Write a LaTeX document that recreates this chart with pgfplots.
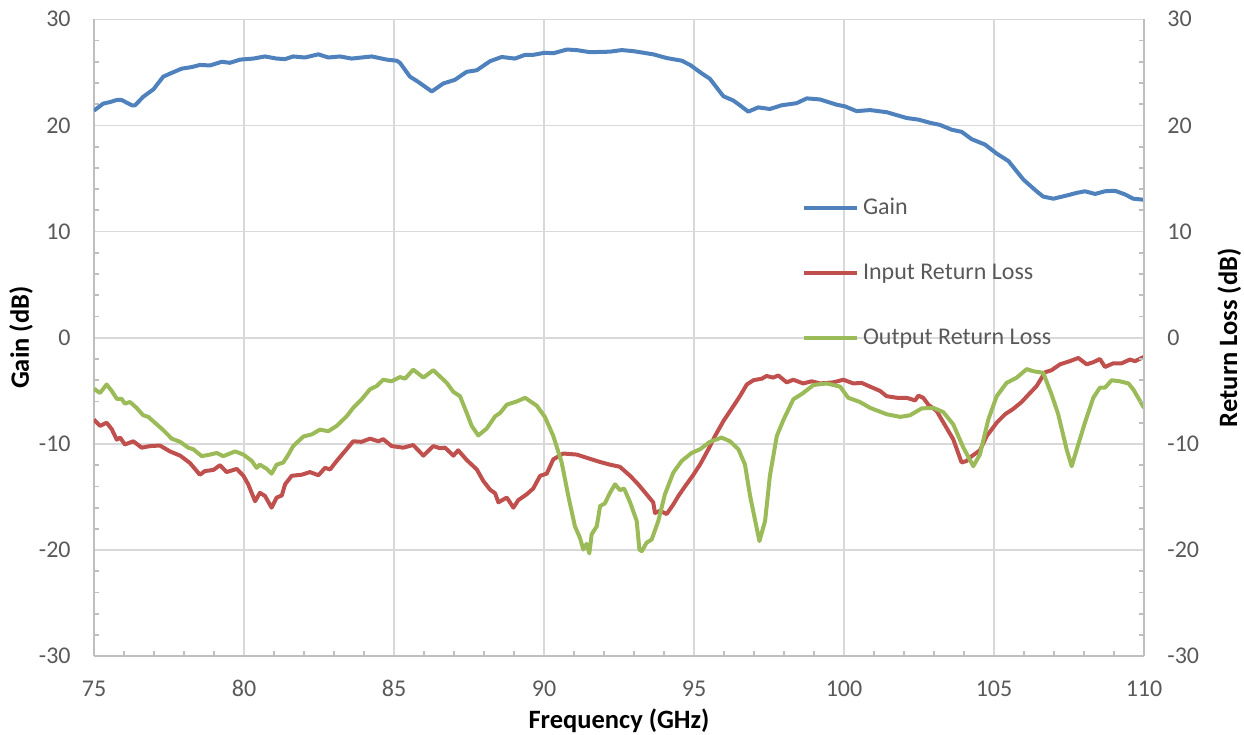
\documentclass[border=0pt]{standalone}
\usepackage{pgfplots}
\pgfplotsset{compat=1.18}
\usepackage{fontspec}
\setmainfont{Carlito}
\definecolor{gainc}{HTML}{4F81BD}
\definecolor{inc}{HTML}{C0504D}
\definecolor{outc}{HTML}{9BBB59}
\definecolor{gridc}{HTML}{D9D9D9}
\definecolor{axc}{HTML}{BFBFBF}
\definecolor{tickc}{HTML}{595959}
\begin{document}
\begin{tikzpicture}
\pgfplotsset{
  common/.style={
    scale only axis, width=525pt, height=318.5pt,
    xmin=75, xmax=110, ymin=-30, ymax=30,
    /pgf/number format/assume math mode=true,
    ticklabel style={font=\fontsize{12}{14}\selectfont, text=tickc, inner sep=0pt},
    label style={font=\bfseries\fontsize{13.25}{15}\selectfont, text=black, inner sep=0pt},
    axis line style={axc, line width=0.9pt},
    tick style={axc, line width=0.9pt},
    tick align=inside,
    major tick length=0pt, minor tick length=2.5pt,
    ytick={-30,-20,...,30}, minor y tick num=4,
  }
}
\begin{axis}[common,
  axis x line*=bottom, axis y line*=left,
  xtick={75,80,...,110}, minor x tick num=4,
  xmajorgrids, ymajorgrids,
  grid style={gridc, line width=0.75pt},
  xticklabel style={anchor=base, yshift=-20pt},
  yticklabel style={anchor=east, xshift=-11.5pt},
  xlabel={Frequency (GHz)},
  ylabel={Gain (dB)},
  xlabel style={at={(axis description cs:0.5,0)}, anchor=base, yshift=-36pt},
  ylabel style={at={(axis description cs:0,0.5)}, anchor=base, yshift=32.5pt},
  legend cell align=left,
  legend style={draw=none, fill=none, at={(rel axis cs:0.6743,0.7206)}, anchor=north west,
    inner sep=0pt, outer sep=0pt, row sep=21.5pt,
    nodes={inner sep=0pt, text=tickc, font=\fontsize{12}{14}\selectfont, text height=8.5pt, text depth=2.5pt},
    /tikz/every odd column/.append style={column sep=2pt}},
  legend image code/.code={\draw[#1, line width=2pt] (0pt,0pt) -- (26.5pt,0pt);},
  line join=round,
]
\addplot[gainc, line width=2pt] coordinates {
(75,21.4) (75.31,22.06) (75.53,22.2) (75.76,22.4) (75.92,22.4) (76.26,21.9) (76.37,21.9) (76.64,22.7) (76.98,23.4) (77.31,24.6) (77.59,24.95) (77.92,25.35) (78.26,25.5) (78.53,25.7) (78.87,25.65) (79.26,26.0) (79.53,25.9) (79.87,26.2) (80.31,26.3) (80.7,26.5) (81.09,26.3) (81.37,26.25) (81.64,26.5) (82.03,26.4) (82.48,26.7) (82.81,26.4) (83.2,26.5) (83.59,26.3) (83.92,26.4) (84.26,26.5) (84.76,26.2) (85.09,26.1) (85.2,25.9) (85.53,24.6) (85.81,24.1) (86.26,23.2) (86.64,23.95) (87.03,24.3) (87.42,25.05) (87.76,25.2) (88.2,26.05) (88.59,26.45) (89.03,26.3) (89.37,26.65) (89.64,26.65) (90.03,26.85) (90.31,26.8) (90.76,27.15) (91.09,27.1) (91.53,26.9) (92.2,26.95) (92.59,27.1) (92.98,27.0) (93.64,26.7) (94.09,26.35) (94.59,26.1) (94.87,25.7) (95.26,24.9) (95.53,24.4) (95.76,23.55) (95.98,22.75) (96.31,22.35) (96.53,21.9) (96.81,21.3) (97.14,21.7) (97.53,21.55) (97.92,21.9) (98.42,22.1) (98.76,22.55) (99.2,22.45) (99.76,21.95) (100.03,21.8) (100.42,21.35) (100.87,21.45) (101.42,21.25) (102.09,20.7) (102.48,20.55) (102.87,20.25) (103.2,20.05) (103.59,19.6) (103.92,19.4) (104.26,18.7) (104.7,18.2) (105.09,17.35) (105.48,16.65) (105.98,14.9) (106.42,13.8) (106.64,13.3) (106.98,13.1) (107.42,13.4) (107.76,13.65) (108.03,13.8) (108.37,13.55) (108.7,13.8) (109.03,13.85) (109.37,13.5) (109.64,13.1) (110,13.0)
};
\addlegendentry{Gain}
\addplot[inc, line width=2pt] coordinates {
(75,-7.7) (75.2,-8.3) (75.42,-8.0) (75.59,-8.6) (75.76,-9.6) (75.87,-9.4) (76.03,-10.05) (76.31,-9.75) (76.59,-10.35) (76.87,-10.2) (77.2,-10.15) (77.53,-10.7) (77.87,-11.1) (78.2,-11.8) (78.53,-12.9) (78.7,-12.55) (78.98,-12.45) (79.2,-12.0) (79.42,-12.65) (79.76,-12.35) (79.98,-13.0) (80.14,-13.8) (80.37,-15.4) (80.53,-14.6) (80.7,-14.9) (80.92,-16.0) (81.09,-15.05) (81.26,-14.85) (81.37,-13.8) (81.59,-13.0) (81.92,-12.9) (82.2,-12.65) (82.48,-12.95) (82.7,-12.25) (82.87,-12.4) (83.09,-11.6) (83.42,-10.5) (83.64,-9.75) (83.92,-9.8) (84.2,-9.5) (84.48,-9.75) (84.64,-9.55) (84.92,-10.2) (85.31,-10.35) (85.64,-10.1) (85.98,-11.1) (86.31,-10.2) (86.53,-10.4) (86.7,-10.35) (86.98,-11.1) (87.14,-10.6) (87.42,-11.5) (87.76,-12.4) (87.98,-13.5) (88.2,-14.3) (88.37,-14.65) (88.48,-15.5) (88.76,-15.05) (88.98,-16.0) (89.14,-15.3) (89.42,-14.75) (89.64,-14.2) (89.87,-13.0) (90.09,-12.8) (90.31,-11.45) (90.64,-10.9) (91.09,-11.0) (91.42,-11.3) (91.87,-11.7) (92.2,-11.95) (92.53,-12.15) (92.87,-13.0) (93.14,-13.8) (93.42,-14.75) (93.64,-15.5) (93.7,-16.5) (93.87,-16.3) (94.09,-16.6) (94.31,-15.7) (94.48,-14.9) (94.7,-14.0) (94.98,-12.9) (95.2,-11.95) (95.48,-10.5) (95.7,-9.25) (95.98,-7.85) (96.31,-6.45) (96.53,-5.5) (96.76,-4.4) (96.98,-4.0) (97.26,-3.85) (97.42,-3.6) (97.64,-3.75) (97.81,-3.55) (98.09,-4.2) (98.31,-3.95) (98.64,-4.3) (98.92,-4.1) (99.2,-4.3) (99.64,-4.2) (99.98,-3.95) (100.31,-4.3) (100.59,-4.25) (100.87,-4.6) (101.2,-5.0) (101.42,-5.5) (101.76,-5.65) (102.09,-5.65) (102.37,-5.9) (102.48,-5.45) (102.64,-5.65) (102.81,-6.3) (103.09,-6.9) (103.42,-8.5) (103.64,-9.55) (103.92,-11.75) (104.09,-11.6) (104.26,-11.15) (104.53,-10.6) (104.76,-9.25) (105.09,-8.0) (105.37,-7.2) (105.64,-6.7) (105.92,-6.05) (106.2,-5.2) (106.42,-4.55) (106.7,-3.25) (106.92,-3.05) (107.2,-2.5) (107.53,-2.2) (107.81,-1.9) (108.09,-2.5) (108.31,-2.3) (108.53,-2.0) (108.7,-2.75) (108.98,-2.4) (109.26,-2.4) (109.53,-2.05) (109.7,-2.2) (110,-1.8)
};
\addlegendentry{Input Return Loss}
\addplot[outc, line width=2pt] coordinates {
(75,-4.8) (75.2,-5.2) (75.42,-4.4) (75.59,-5.0) (75.76,-5.75) (75.92,-5.75) (76.03,-6.2) (76.2,-6.05) (76.42,-6.6) (76.64,-7.3) (76.81,-7.45) (77.03,-8.0) (77.31,-8.7) (77.59,-9.5) (77.87,-9.8) (78.14,-10.35) (78.31,-10.5) (78.59,-11.15) (78.87,-11.0) (79.09,-10.85) (79.31,-11.15) (79.53,-10.9) (79.7,-10.7) (79.98,-11.0) (80.26,-11.6) (80.42,-12.25) (80.53,-11.95) (80.76,-12.35) (80.92,-12.8) (81.09,-11.95) (81.31,-11.75) (81.48,-11.0) (81.64,-10.2) (81.98,-9.3) (82.26,-9.1) (82.53,-8.65) (82.81,-8.8) (83.09,-8.3) (83.42,-7.4) (83.64,-6.6) (83.92,-5.8) (84.2,-4.85) (84.42,-4.55) (84.64,-3.95) (84.92,-4.1) (85.2,-3.7) (85.37,-3.85) (85.64,-3.0) (85.98,-3.75) (86.31,-3.05) (86.76,-4.25) (86.98,-5.1) (87.2,-5.5) (87.42,-7.05) (87.59,-8.3) (87.81,-9.2) (88.09,-8.55) (88.37,-7.4) (88.53,-7.1) (88.76,-6.3) (89.09,-6.0) (89.37,-5.65) (89.76,-6.4) (90.03,-7.45) (90.31,-9.25) (90.59,-11.75) (90.81,-14.9) (91.03,-17.75) (91.2,-18.85) (91.31,-19.95) (91.42,-19.4) (91.51,-20.3) (91.59,-18.5) (91.76,-17.75) (91.87,-15.85) (92.03,-15.6) (92.2,-14.6) (92.37,-13.8) (92.53,-14.35) (92.67,-14.2) (92.87,-15.5) (93.09,-17.25) (93.18,-19.95) (93.26,-20.1) (93.42,-19.3) (93.59,-19.0) (93.81,-17.25) (94.03,-14.75) (94.31,-12.7) (94.59,-11.6) (94.92,-10.85) (95.2,-10.5) (95.53,-9.8) (95.92,-9.4) (96.2,-9.75) (96.48,-10.5) (96.7,-11.95) (96.87,-14.9) (97.03,-17.1) (97.18,-19.15) (97.37,-17.25) (97.53,-13.0) (97.76,-9.25) (97.98,-7.75) (98.31,-5.8) (98.64,-5.2) (98.98,-4.45) (99.42,-4.3) (99.87,-4.6) (100.14,-5.65) (100.53,-6.05) (100.87,-6.6) (101.42,-7.2) (101.87,-7.45) (102.2,-7.3) (102.59,-6.65) (102.98,-6.6) (103.31,-7.0) (103.64,-8.15) (103.98,-10.35) (104.31,-12.1) (104.53,-11.0) (104.81,-7.7) (105.09,-5.5) (105.42,-4.25) (105.76,-3.75) (106.09,-2.95) (106.31,-3.15) (106.64,-3.3) (106.92,-5.35) (107.14,-7.2) (107.42,-10.5) (107.59,-12.1) (107.76,-10.5) (108.03,-8.0) (108.31,-5.65) (108.53,-4.7) (108.7,-4.7) (108.92,-4.0) (109.2,-4.1) (109.48,-4.3) (109.64,-4.85) (110,-6.6)
};
\addlegendentry{Output Return Loss}
\end{axis}
\begin{axis}[common,
  axis x line=none, axis y line*=right,
  yticklabel style={anchor=west, xshift=11.5pt},
  ylabel={Return Loss (dB)},
  ylabel style={at={(axis description cs:1,0.5)}, anchor=base, yshift=-46.5pt},
]
\end{axis}
\pgfresetboundingbox
\path ([xshift=-47pt, yshift=-39.35pt]current axis.south west) rectangle ([xshift=50pt, yshift=9.65pt]current axis.north east);
\end{tikzpicture}
\end{document}
